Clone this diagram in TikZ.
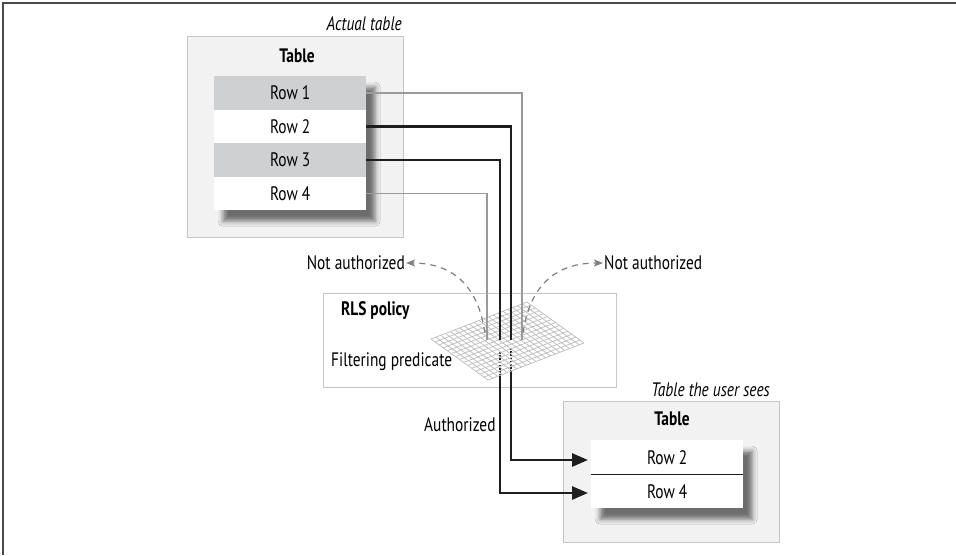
\documentclass[tikz,border=0pt]{standalone}
\usepackage{fontspec}
\setmainfont[FakeStretch=0.79]{PT Sans}
\usetikzlibrary{arrows.meta,calc,shadows.blur}
\definecolor{boxfill}{HTML}{F2F2F2}
\definecolor{boxline}{HTML}{C6C6C6}
\definecolor{rowgray}{HTML}{CFD0D2}
\definecolor{thingray}{HTML}{9A9A9A}
\definecolor{dashgray}{HTML}{808080}
\definecolor{gridgray}{HTML}{BDBDBD}
\definecolor{framegray}{HTML}{4A4A4A}
\definecolor{inkblack}{HTML}{1E1E1E}
\begin{document}
\begin{tikzpicture}[x=1pt,y=-1pt,
  txt/.style={font=\fontsize{19.5}{22}\selectfont, inner sep=1pt},
  boldtxt/.style={font=\fontsize{19.5}{22}\selectfont\bfseries, inner sep=1pt},
  itxt/.style={font=\fontsize{19.5}{22}\selectfont\itshape, inner sep=1pt},
  outerbox/.style={draw=boxline, fill=boxfill, line width=1pt, anchor=north west, inner sep=0pt},
  stackbox/.style={anchor=north west, inner sep=0pt, fill=white, minimum width=152pt,
     blur shadow={shadow xshift=9pt, shadow yshift=-11pt, shadow blur radius=5pt, shadow opacity=55}},
  rowbox/.style={anchor=north west, inner sep=0pt, minimum width=152pt, font=\fontsize{19.5}{22}\selectfont},
  thinline/.style={draw=thingray, line width=1.1pt},
  thickline/.style={draw=inkblack, line width=2.8pt},
  bigarrow/.style={thickline, -{Triangle[length=16pt,width=13pt]}, shorten >=3pt},
  dasharrow/.style={draw=dashgray, line width=1.2pt, dash pattern=on 6pt off 5pt,
     -{Stealth[length=9pt,width=7pt,inset=2pt]}},
  gridline/.style={draw=gridgray, line width=0.7pt},
  dotline/.style={draw=inkblack, line width=2.6pt, dash pattern=on 1.6pt off 1.6pt}
]
\useasboundingbox (0,0) rectangle (956,555);
% frame
\draw[framegray, line width=1.5pt] (3,555) -- (3,3) -- (956,3);

% ---- actual table ----
\node[outerbox, minimum width=216pt, minimum height=201pt] (tab1) at (187,36) {};
\node[itxt, anchor=base east] (lab1) at (403,30) {Actual table};
\node[boldtxt, anchor=base] (tt1) at (297,62) {Table};
\node[stackbox, minimum height=134pt] (stack1) at (214,76) {};
\node[rowbox, fill=rowgray, minimum height=33.5pt] (r1) at (214,76) {Row 1};
\node[rowbox, fill=white, minimum height=33.5pt] (r2) at (214,109.5) {Row 2};
\node[rowbox, fill=rowgray, minimum height=33.5pt] (r3) at (214,143) {Row 3};
\node[rowbox, fill=white, minimum height=33.5pt] (r4) at (214,176.5) {Row 4};

% ---- user table ----
\node[outerbox, minimum width=216pt, minimum height=141pt] (tab2) at (563,401) {};
\node[itxt, anchor=base east] (lab2) at (771,396) {Table the user sees};
\node[boldtxt, anchor=base] (tt2) at (672,425) {Table};
\node[stackbox, minimum height=68pt] (stack2) at (591,440) {};
\node[rowbox, fill=white, minimum height=34pt] (o2) at (591,440) {Row 2};
\node[rowbox, fill=white, minimum height=34pt] (o4) at (591,474) {Row 4};
\draw[inkblack, line width=1pt] (o2.south west) -- (o2.south east);

% ---- RLS policy box ----
\node[draw=boxline, fill=white, line width=1pt, anchor=north west, inner sep=0pt,
      minimum width=293pt, minimum height=94pt] (rls) at (323,293) {};
\node[boldtxt, anchor=base west] (rlst) at (340,315) {RLS policy};
\node[txt, anchor=base west] (filt) at (330,366) {Filtering predicate};

% grid corners
\coordinate (L) at (431,339);
\coordinate (T) at (527,302);
\coordinate (B) at (488,380);
\coordinate (R) at (584,343);

% connector coordinates
\coordinate (k2) at (511,460);
\coordinate (k4) at (500,493);
\coordinate (p2) at (511,340);
\coordinate (p3) at (500,340);
\coordinate (g1) at (522,340);
\coordinate (g4) at (487,340);

% full authorized connectors
\draw[bigarrow] (r2.east) -| (k2) -- (k2 -| o2.west);
\draw[bigarrow] (r3.east) -| (k4) -- (k4 -| o4.west);

% plane
\fill[white] (L) -- (T) -- (R) -- (B) -- cycle;
\draw[dotline] (511,348) -- (511,371);
\draw[dotline] (500,352) -- (500,375);
\foreach \i in {0,...,20} {
  \draw[gridline] ($(L)!\i/20!(T)$) -- ($(B)!\i/20!(R)$);
}
\foreach \j in {0,...,14} {
  \draw[gridline] ($(L)!\j/14!(B)$) -- ($(T)!\j/14!(R)$);
}

% upper parts above the plane
\draw[thickline] (r2.east) -| (p2);
\draw[thickline] (r3.east) -| (p3);
\draw[thinline] (r1.east) -| (g1);
\draw[thinline] (r4.east) -| (g4);

% not authorized
\node[txt, anchor=east] (na1) at (406,263) {Not authorized};
\node[txt, anchor=west] (na2) at (603,263) {Not authorized};
\coordinate (dl) at (485,333);
\coordinate (dr) at (523,333);
\draw[dasharrow] (dl) .. controls (478,285) and (452,263) .. (na1.east);
\draw[dasharrow] (dr) .. controls (530,285) and (556,263) .. (na2.west);

% authorized
\node[txt, anchor=base west] (auth) at (423,431) {Authorized};
\end{tikzpicture}
\end{document}
